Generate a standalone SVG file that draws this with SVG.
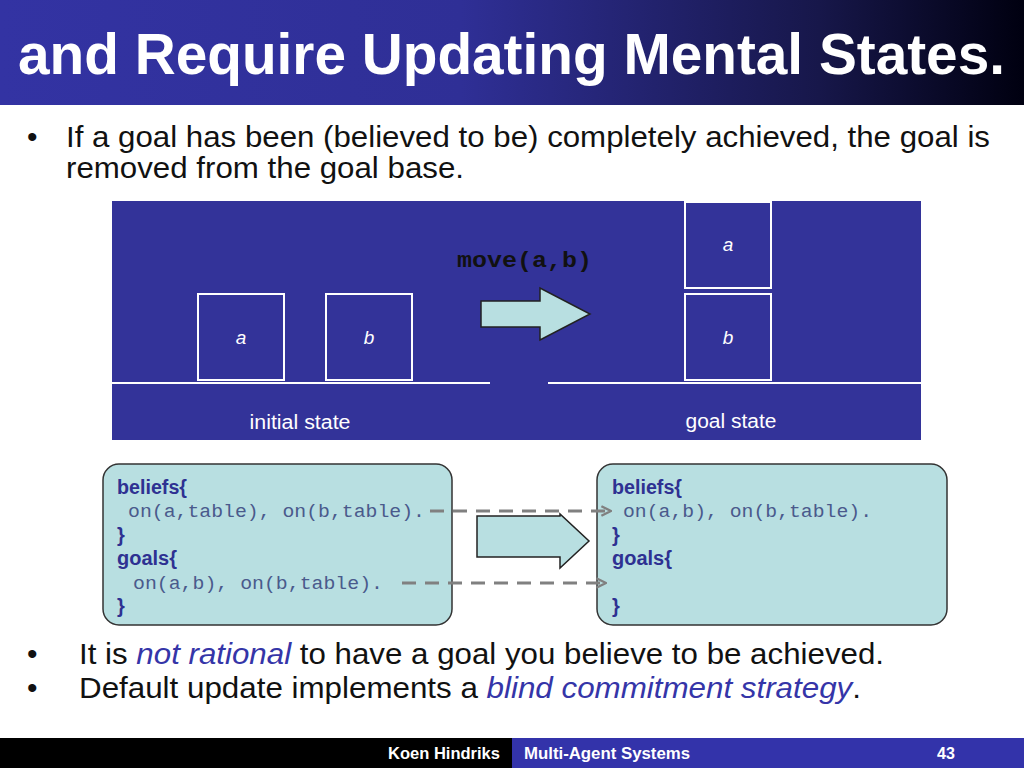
<svg xmlns="http://www.w3.org/2000/svg" width="1024" height="768" viewBox="0 0 1024 768">
<defs>
<linearGradient id="tg" x1="0" y1="0" x2="1" y2="0">
<stop offset="0" stop-color="#3333a3"/>
<stop offset="0.45" stop-color="#2f2f96"/>
<stop offset="0.8" stop-color="#17174a"/>
<stop offset="1" stop-color="#000010"/>
</linearGradient>
<marker id="ah" viewBox="0 0 10 10" refX="9" refY="5" markerWidth="4" markerHeight="4" orient="auto" markerUnits="strokeWidth">
<path d="M1,1 L9,5 L1,9" fill="none" stroke="#808080" stroke-width="2"/>
</marker>
<style>
.bul{font-family:"Liberation Sans",Arial,sans-serif;font-size:30px;fill:#111111}
.em{font-style:italic;fill:#3535a8}
.blk{fill:none;stroke:#ffffff;stroke-width:2}
.lbl{font-family:"Liberation Sans",Arial,sans-serif;font-size:19px;font-style:italic;fill:#ffffff;text-anchor:middle}
.cap{font-family:"Liberation Sans",Arial,sans-serif;font-size:20px;fill:#ffffff;text-anchor:middle}
.kw{font-family:"Liberation Sans",Arial,sans-serif;font-size:20px;font-weight:bold;fill:#2e3192}
.code{font-family:"Liberation Mono","Courier New",monospace;font-size:19px;fill:#4a5a8c}
.box{fill:#b8dfe1;stroke:#333333;stroke-width:1.5}
.fat{fill:#b8dfe1;stroke:#222222;stroke-width:1.5}
.dash{stroke:#808080;stroke-width:3;stroke-dasharray:14,9;fill:none}
.ft{font-family:"Liberation Sans",Arial,sans-serif;font-size:16px;font-weight:bold;fill:#ffffff}
</style>
</defs>
<rect width="1024" height="768" fill="#ffffff"/>
<g id="title">
<rect x="0" y="0" width="1024" height="105" fill="url(#tg)"/>
<text x="18" y="74" font-family="Liberation Sans,Arial,sans-serif" font-size="57" font-weight="bold" fill="#ffffff" textLength="987" lengthAdjust="spacingAndGlyphs">and Require Updating Mental States.</text>
</g>
<g id="bullets-top">
<text x="27" y="147" class="bul">•</text>
<text x="66" y="147" class="bul" textLength="924" lengthAdjust="spacingAndGlyphs">If a goal has been (believed to be) completely achieved, the goal is</text>
<text x="66" y="178" class="bul" textLength="398" lengthAdjust="spacingAndGlyphs">removed from the goal base.</text>
</g>
<g id="scene">
<rect x="112" y="201" width="809" height="239" fill="#333399"/>
<line x1="112" y1="383" x2="490" y2="383" stroke="#ffffff" stroke-width="2"/>
<line x1="548" y1="383" x2="921" y2="383" stroke="#ffffff" stroke-width="2"/>
<g id="init-a"><rect x="198" y="294" width="86" height="86" class="blk"/><text x="241" y="344" class="lbl">a</text></g>
<g id="init-b"><rect x="326" y="294" width="86" height="86" class="blk"/><text x="369" y="344" class="lbl">b</text></g>
<g id="goal-a"><rect x="685" y="202" width="86" height="86" class="blk"/><text x="728" y="251" class="lbl">a</text></g>
<g id="goal-b"><rect x="685" y="294" width="86" height="86" class="blk"/><text x="728" y="344" class="lbl">b</text></g>
<text x="300" y="429" class="cap" textLength="101" lengthAdjust="spacingAndGlyphs">initial state</text>
<text x="731" y="428" class="cap" textLength="91" lengthAdjust="spacingAndGlyphs">goal state</text>
<text x="457" y="267" font-family="Liberation Mono,Courier New,monospace" font-size="22" font-weight="bold" fill="#111111" textLength="135" lengthAdjust="spacingAndGlyphs">move(a,b)</text>
<g id="move-arrow"><path d="M481,301 L540,301 L540,288 L590,314 L540,340 L540,327 L481,327 Z" class="fat"/></g>
</g>
<g id="before">
<rect x="103" y="464" width="349" height="161" rx="16" class="box"/>
<text x="117" y="494" class="kw" textLength="70" lengthAdjust="spacingAndGlyphs">beliefs{</text>
<text x="128" y="517" class="code" textLength="297" lengthAdjust="spacingAndGlyphs">on(a,table), on(b,table).</text>
<text x="117" y="542" class="kw">}</text>
<text x="117" y="565" class="kw" textLength="60" lengthAdjust="spacingAndGlyphs">goals{</text>
<text x="133" y="589" class="code" textLength="250" lengthAdjust="spacingAndGlyphs">on(a,b), on(b,table).</text>
<text x="117" y="613" class="kw">}</text>
</g>
<g id="after">
<rect x="597" y="464" width="350" height="161" rx="16" class="box"/>
<text x="612" y="494" class="kw" textLength="70" lengthAdjust="spacingAndGlyphs">beliefs{</text>
<text x="623" y="517" class="code" textLength="249" lengthAdjust="spacingAndGlyphs">on(a,b), on(b,table).</text>
<text x="612" y="542" class="kw">}</text>
<text x="612" y="565" class="kw" textLength="60" lengthAdjust="spacingAndGlyphs">goals{</text>
<text x="612" y="613" class="kw">}</text>
</g>
<g id="connectors">
<line x1="430" y1="511" x2="611" y2="511" class="dash" marker-end="url(#ah)"/>
<line x1="402" y1="583" x2="606" y2="583" class="dash" marker-end="url(#ah)"/>
<path d="M477,516 L560,516 L560,514 L589,541 L560,568 L560,557 L477,557 Z" class="fat"/>
</g>
<g id="bullets-bottom">
<text x="27" y="664" class="bul">•</text>
<text x="79" y="664" class="bul" textLength="805" lengthAdjust="spacingAndGlyphs">It is <tspan class="em">not rational</tspan> to have a goal you believe to be achieved.</text>
<text x="27" y="698" class="bul">•</text>
<text x="79" y="698" class="bul" textLength="782" lengthAdjust="spacingAndGlyphs">Default update implements a <tspan class="em">blind commitment strategy</tspan>.</text>
</g>
<g id="footer">
<rect x="0" y="738" width="512" height="30" fill="#000000"/>
<rect x="512" y="738" width="512" height="30" fill="#3333aa"/>
<text x="388" y="759" class="ft" textLength="112" lengthAdjust="spacingAndGlyphs">Koen Hindriks</text>
<text x="524" y="759" class="ft" textLength="166" lengthAdjust="spacingAndGlyphs">Multi-Agent Systems</text>
<text x="946" y="759" class="ft" text-anchor="middle" font-weight="normal">43</text>
</g>
</svg>
